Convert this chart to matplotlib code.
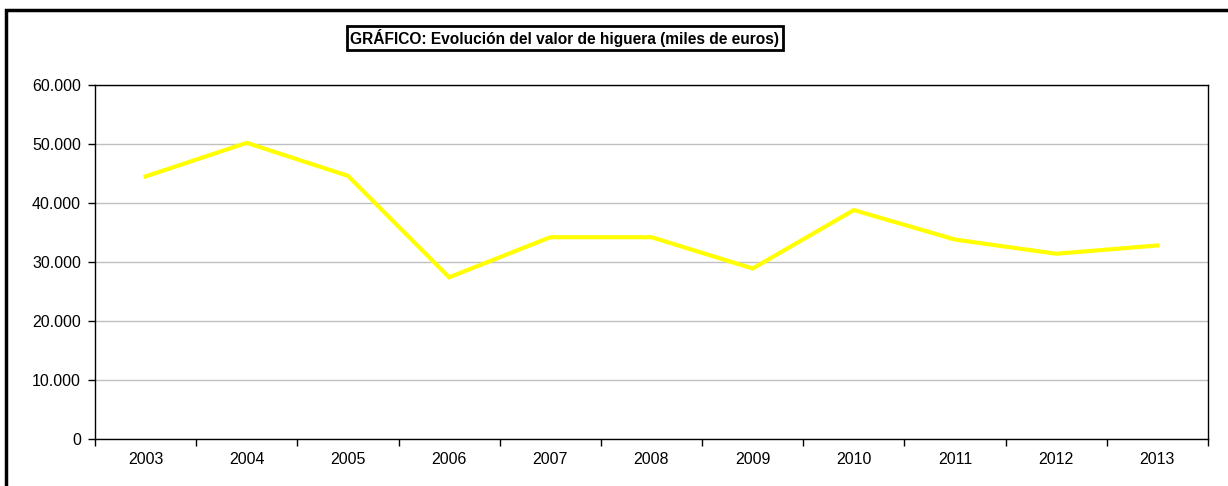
import matplotlib
matplotlib.use('Agg')
import matplotlib.pyplot as plt
import matplotlib.patches as patches
import matplotlib.ticker as mticker
import numpy as np

plt.rcParams['font.family'] = ['Liberation Sans', 'DejaVu Sans']

# Datos del gráfico
years = ['2003', '2004', '2005', '2006', '2007', '2008', '2009', '2010', '2011', '2012', '2013']
valor = [44500, 50200, 44600, 27400, 34200, 34200, 28900, 38800, 33800, 31400, 32800]
y_ticks = [0, 10000, 20000, 30000, 40000, 50000, 60000]
titulo = 'GRÁFICO: Evolución del valor de higuera (miles de euros)'

W, H = 1228, 486
fig = plt.figure(figsize=(W / 100, H / 100), dpi=100)
ax = fig.add_axes([95 / W, 1 - 439 / H, (1208 - 95) / W, (439 - 85) / H])

x = np.arange(len(years))
ax.plot(x, valor, color='#FFFF00', lw=3, solid_joinstyle='miter', zorder=3)

ax.set_xlim(-0.5, len(years) - 0.5)
ax.set_ylim(0, 60000)
ax.set_yticks(y_ticks)
ax.yaxis.set_major_formatter(mticker.FuncFormatter(lambda v, p: f'{int(v):,}'.replace(',', '.')))
ax.grid(axis='y', color='#C0C0C0', lw=1)
ax.set_axisbelow(True)

# ticks del eje x en los límites de categoría, etiquetas centradas
ax.set_xticks(np.arange(-0.5, len(years), 1.0))
ax.set_xticklabels([])
ax.set_xticks(x, minor=True)
ax.set_xticklabels(years, minor=True)
ax.tick_params(axis='x', which='major', length=5, width=1, color='black', direction='out')
ax.tick_params(axis='x', which='minor', length=0, pad=9, labelsize=11.5)
ax.tick_params(axis='y', length=5, width=1, direction='out', pad=5, labelsize=11.5)

for s in ax.spines.values():
    s.set_color('black')
    s.set_linewidth(1)

# título en caja
fig.text(565 / W, 1 - 38 / H, titulo, ha='center', va='center', fontsize=11.2, fontweight='bold',
         bbox=dict(boxstyle='square,pad=0.2', fc='white', ec='black', lw=2))

# borde exterior del gráfico
fig.patches.append(patches.Rectangle((6 / W, -0.1), 1.2, 1 - 9.5 / H + 0.1, transform=fig.transFigure,
                                     fill=False, ec='black', lw=2.5, clip_on=False))

fig.savefig('out.png', dpi=100)
